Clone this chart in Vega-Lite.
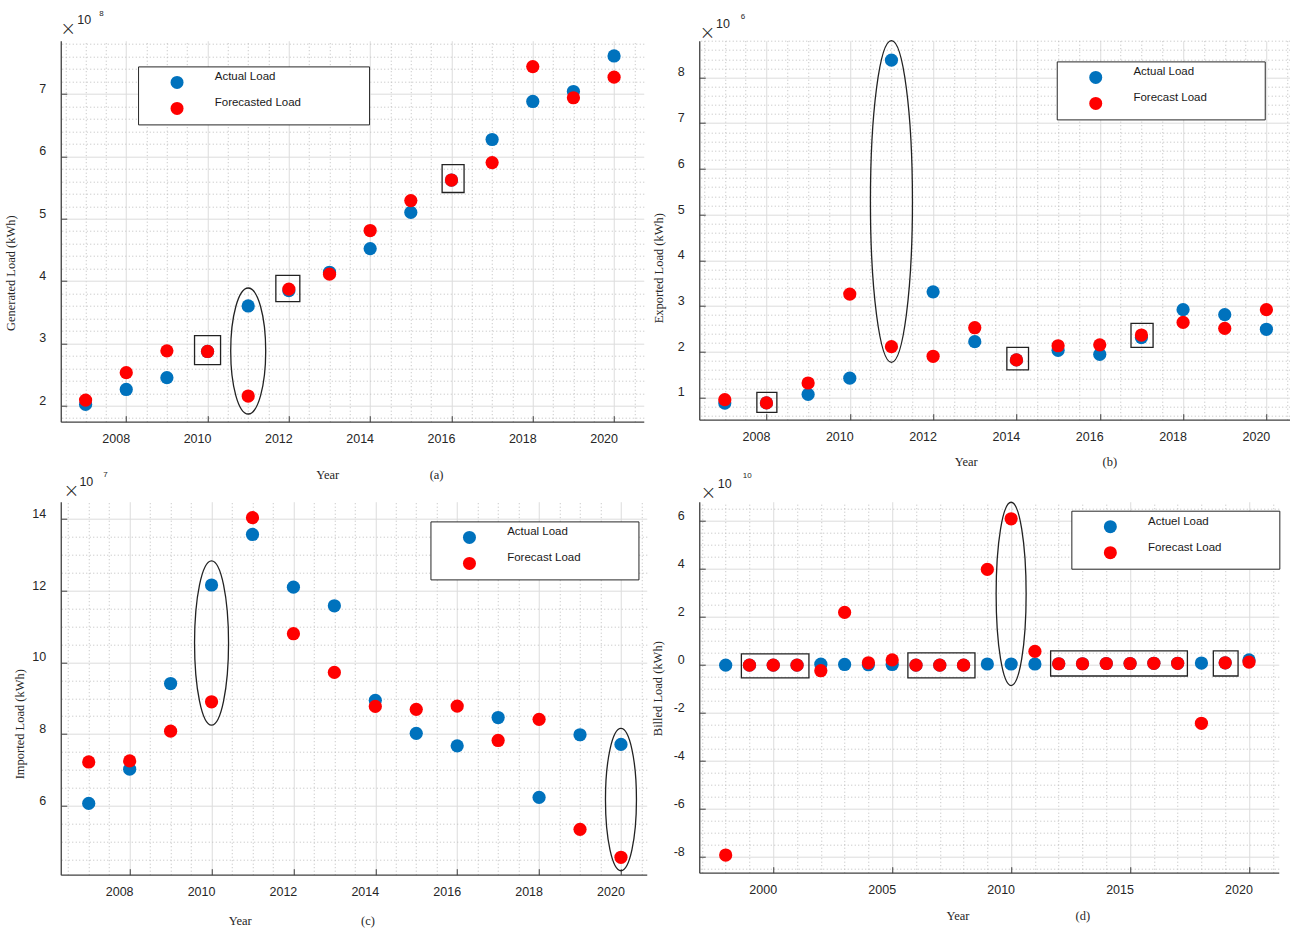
{
  "$schema": "https://vega.github.io/schema/vega-lite/v6.json",
  "autosize": {"type": "pad"},
  "padding": {"left": 4.75, "top": 8.7, "right": 0, "bottom": 0},
  "background": "white",
  "datasets": {
    "a": [
      {"year": 2007, "series": "Actual Load", "value": 2.02},
      {"year": 2008, "series": "Actual Load", "value": 2.26},
      {"year": 2009, "series": "Actual Load", "value": 2.45},
      {"year": 2010, "series": "Actual Load", "value": 2.87},
      {"year": 2011, "series": "Actual Load", "value": 3.6},
      {"year": 2012, "series": "Actual Load", "value": 3.845},
      {"year": 2013, "series": "Actual Load", "value": 4.14},
      {"year": 2014, "series": "Actual Load", "value": 4.52},
      {"year": 2015, "series": "Actual Load", "value": 5.1},
      {"year": 2016, "series": "Actual Load", "value": 5.62},
      {"year": 2017, "series": "Actual Load", "value": 6.27},
      {"year": 2018, "series": "Actual Load", "value": 6.88},
      {"year": 2019, "series": "Actual Load", "value": 7.04},
      {"year": 2020, "series": "Actual Load", "value": 7.61},
      {"year": 2007, "series": "Forecasted Load", "value": 2.09},
      {"year": 2008, "series": "Forecasted Load", "value": 2.53},
      {"year": 2009, "series": "Forecasted Load", "value": 2.88},
      {"year": 2010, "series": "Forecasted Load", "value": 2.87},
      {"year": 2011, "series": "Forecasted Load", "value": 2.155},
      {"year": 2012, "series": "Forecasted Load", "value": 3.87},
      {"year": 2013, "series": "Forecasted Load", "value": 4.11},
      {"year": 2014, "series": "Forecasted Load", "value": 4.81},
      {"year": 2015, "series": "Forecasted Load", "value": 5.29},
      {"year": 2016, "series": "Forecasted Load", "value": 5.62},
      {"year": 2017, "series": "Forecasted Load", "value": 5.9},
      {"year": 2018, "series": "Forecasted Load", "value": 7.44},
      {"year": 2019, "series": "Forecasted Load", "value": 6.94},
      {"year": 2020, "series": "Forecasted Load", "value": 7.27}
    ],
    "aBox": [
      {"x1": 2009.68, "x2": 2010.32, "y1": 3.123, "y2": 2.658},
      {"x1": 2011.68, "x2": 2012.27, "y1": 4.09, "y2": 3.67},
      {"x1": 2015.77, "x2": 2016.31, "y1": 5.866, "y2": 5.42}
    ],
    "aEll": [{"year": 2011, "value": 2.877}],
    "b": [
      {"year": 2007, "series": "Actual Load", "value": 0.877},
      {"year": 2008, "series": "Actual Load", "value": 0.88},
      {"year": 2009, "series": "Actual Load", "value": 1.066},
      {"year": 2010, "series": "Actual Load", "value": 1.42},
      {"year": 2011, "series": "Actual Load", "value": 8.38},
      {"year": 2012, "series": "Actual Load", "value": 3.31},
      {"year": 2013, "series": "Actual Load", "value": 2.22},
      {"year": 2014, "series": "Actual Load", "value": 1.82},
      {"year": 2015, "series": "Actual Load", "value": 2.03},
      {"year": 2016, "series": "Actual Load", "value": 1.94},
      {"year": 2017, "series": "Actual Load", "value": 2.31},
      {"year": 2018, "series": "Actual Load", "value": 2.92},
      {"year": 2019, "series": "Actual Load", "value": 2.81},
      {"year": 2020, "series": "Actual Load", "value": 2.49},
      {"year": 2007, "series": "Forecast Load", "value": 0.95},
      {"year": 2008, "series": "Forecast Load", "value": 0.88},
      {"year": 2009, "series": "Forecast Load", "value": 1.315},
      {"year": 2010, "series": "Forecast Load", "value": 3.26},
      {"year": 2011, "series": "Forecast Load", "value": 2.11},
      {"year": 2012, "series": "Forecast Load", "value": 1.9},
      {"year": 2013, "series": "Forecast Load", "value": 2.525},
      {"year": 2014, "series": "Forecast Load", "value": 1.82},
      {"year": 2015, "series": "Forecast Load", "value": 2.13},
      {"year": 2016, "series": "Forecast Load", "value": 2.15},
      {"year": 2017, "series": "Forecast Load", "value": 2.365},
      {"year": 2018, "series": "Forecast Load", "value": 2.64},
      {"year": 2019, "series": "Forecast Load", "value": 2.51},
      {"year": 2020, "series": "Forecast Load", "value": 2.92}
    ],
    "bBox": [
      {"x1": 2007.77, "x2": 2008.25, "y1": 1.11, "y2": 0.67},
      {"x1": 2013.77, "x2": 2014.29, "y1": 2.094, "y2": 1.6},
      {"x1": 2016.75, "x2": 2017.28, "y1": 2.62, "y2": 2.094}
    ],
    "bEll": [{"year": 2011, "value": 5.287}],
    "c": [
      {"year": 2007, "series": "Actual Load", "value": 6.064},
      {"year": 2008, "series": "Actual Load", "value": 7.02},
      {"year": 2009, "series": "Actual Load", "value": 9.41},
      {"year": 2010, "series": "Actual Load", "value": 12.16},
      {"year": 2011, "series": "Actual Load", "value": 13.57},
      {"year": 2012, "series": "Actual Load", "value": 12.1},
      {"year": 2013, "series": "Actual Load", "value": 11.58},
      {"year": 2014, "series": "Actual Load", "value": 8.94},
      {"year": 2015, "series": "Actual Load", "value": 8.02},
      {"year": 2016, "series": "Actual Load", "value": 7.67},
      {"year": 2017, "series": "Actual Load", "value": 8.46},
      {"year": 2018, "series": "Actual Load", "value": 6.23},
      {"year": 2019, "series": "Actual Load", "value": 7.98},
      {"year": 2020, "series": "Actual Load", "value": 7.71},
      {"year": 2007, "series": "Forecast Load", "value": 7.22},
      {"year": 2008, "series": "Forecast Load", "value": 7.25},
      {"year": 2009, "series": "Forecast Load", "value": 8.08},
      {"year": 2010, "series": "Forecast Load", "value": 8.9},
      {"year": 2011, "series": "Forecast Load", "value": 14.04},
      {"year": 2012, "series": "Forecast Load", "value": 10.8},
      {"year": 2013, "series": "Forecast Load", "value": 9.72},
      {"year": 2014, "series": "Forecast Load", "value": 8.77},
      {"year": 2015, "series": "Forecast Load", "value": 8.69},
      {"year": 2016, "series": "Forecast Load", "value": 8.78},
      {"year": 2017, "series": "Forecast Load", "value": 7.82},
      {"year": 2018, "series": "Forecast Load", "value": 8.41},
      {"year": 2019, "series": "Forecast Load", "value": 5.34},
      {"year": 2020, "series": "Forecast Load", "value": 4.56}
    ],
    "cEll": [{"year": 2010, "value": 10.54}, {"year": 2020, "value": 6.17}],
    "d": [
      {"year": 1998, "series": "Actuel Load", "value": 0.0},
      {"year": 1999, "series": "Actuel Load", "value": 0.0},
      {"year": 2000, "series": "Actuel Load", "value": 0.0},
      {"year": 2001, "series": "Actuel Load", "value": 0.0},
      {"year": 2002, "series": "Actuel Load", "value": 0.04},
      {"year": 2003, "series": "Actuel Load", "value": 0.03},
      {"year": 2004, "series": "Actuel Load", "value": 0.02},
      {"year": 2005, "series": "Actuel Load", "value": 0.03},
      {"year": 2006, "series": "Actuel Load", "value": 0.0},
      {"year": 2007, "series": "Actuel Load", "value": 0.0},
      {"year": 2008, "series": "Actuel Load", "value": 0.0},
      {"year": 2009, "series": "Actuel Load", "value": 0.05},
      {"year": 2010, "series": "Actuel Load", "value": 0.05},
      {"year": 2011, "series": "Actuel Load", "value": 0.05},
      {"year": 2012, "series": "Actuel Load", "value": 0.06},
      {"year": 2013, "series": "Actuel Load", "value": 0.06},
      {"year": 2014, "series": "Actuel Load", "value": 0.07},
      {"year": 2015, "series": "Actuel Load", "value": 0.07},
      {"year": 2016, "series": "Actuel Load", "value": 0.08},
      {"year": 2017, "series": "Actuel Load", "value": 0.08},
      {"year": 2018, "series": "Actuel Load", "value": 0.09},
      {"year": 2019, "series": "Actuel Load", "value": 0.1},
      {"year": 2020, "series": "Actuel Load", "value": 0.22},
      {"year": 1998, "series": "Forecast Load", "value": -7.91},
      {"year": 1999, "series": "Forecast Load", "value": 0.0},
      {"year": 2000, "series": "Forecast Load", "value": 0.0},
      {"year": 2001, "series": "Forecast Load", "value": 0.0},
      {"year": 2002, "series": "Forecast Load", "value": -0.23},
      {"year": 2003, "series": "Forecast Load", "value": 2.2},
      {"year": 2004, "series": "Forecast Load", "value": 0.1},
      {"year": 2005, "series": "Forecast Load", "value": 0.22},
      {"year": 2006, "series": "Forecast Load", "value": 0.0},
      {"year": 2007, "series": "Forecast Load", "value": 0.0},
      {"year": 2008, "series": "Forecast Load", "value": 0.0},
      {"year": 2009, "series": "Forecast Load", "value": 3.99},
      {"year": 2010, "series": "Forecast Load", "value": 6.1},
      {"year": 2011, "series": "Forecast Load", "value": 0.575},
      {"year": 2012, "series": "Forecast Load", "value": 0.06},
      {"year": 2013, "series": "Forecast Load", "value": 0.06},
      {"year": 2014, "series": "Forecast Load", "value": 0.07},
      {"year": 2015, "series": "Forecast Load", "value": 0.07},
      {"year": 2016, "series": "Forecast Load", "value": 0.08},
      {"year": 2017, "series": "Forecast Load", "value": 0.08},
      {"year": 2018, "series": "Forecast Load", "value": -2.42},
      {"year": 2019, "series": "Forecast Load", "value": 0.1},
      {"year": 2020, "series": "Forecast Load", "value": 0.13}
    ],
    "dBox": [
      {"x1": 1998.66, "x2": 2001.5, "y1": 0.47, "y2": -0.53},
      {"x1": 2005.66, "x2": 2008.48, "y1": 0.51, "y2": -0.53},
      {"x1": 2011.66, "x2": 2017.41, "y1": 0.6, "y2": -0.45},
      {"x1": 2018.5, "x2": 2019.54, "y1": 0.6, "y2": -0.45}
    ],
    "dEll": [{"year": 2010, "value": 2.97}]
  },
  "columns": 2,
  "spacing": {"row": 80, "column": 52.5},
  "bounds": "flush",
  "align": "each",
  "concat": [
    {
      "width": 583,
      "height": 381,
      "title": {"text": "8", "orient": "top", "anchor": "start", "frame": "group", "align": "center", "baseline": "middle", "dx": 40.7, "offset": -7.7, "fontSize": 8, "font": "Liberation Sans", "fontWeight": "normal", "color": "#262626"},
      "layer": [
        {
          "data": {"name": "a"},
          "mark": {"type": "circle", "size": 175, "opacity": 1},
          "encoding": {
            "x": {"field": "year", "type": "quantitative", "scale": {"domain": [2006.389, 2020.73], "nice": false, "zero": false},
              "axis": {"orient": "bottom", "grid": true, "values": [2008, 2010, 2012, 2014, 2016, 2018, 2020], "labelExpr": "'' + datum.value",
                "title": "Year\u00a0\u00a0\u00a0\u00a0\u00a0\u00a0\u00a0\u00a0\u00a0\u00a0\u00a0\u00a0\u00a0\u00a0\u00a0\u00a0\u00a0\u00a0\u00a0\u00a0\u00a0\u00a0\u00a0\u00a0\u00a0\u00a0\u00a0\u00a0\u00a0(a)", "titleX": 254.9, "titleY": 53}},
            "y": {"field": "value", "type": "quantitative", "scale": {"domain": [1.7433, 7.855], "nice": false, "zero": false},
              "axis": {"orient": "left", "grid": true, "values": [2, 3, 4, 5, 6, 7], "labelExpr": "'' + datum.value", "title": "Generated Load (kWh)", "titleX": -50, "titleY": 232}},
            "color": {"field": "series", "type": "nominal", "scale": {"domain": ["Actual Load", "Forecasted Load"], "range": ["#0072BD", "#FF0000"]},
              "legend": {"orient": "none", "legendX": 77.3, "legendY": 25.7, "title": null, "labelExpr": "datum.label + '\u00a0\u00a0\u00a0\u00a0\u00a0\u00a0\u00a0\u00a0\u00a0\u00a0\u00a0\u00a0\u00a0\u00a0\u00a0\u00a0\u00a0\u00a0\u200b'"}}
          }
        },
        {
          "data": {"name": "aBox"},
          "mark": {"type": "rect", "filled": false, "stroke": "#222222", "strokeWidth": 1.3},
          "encoding": {
            "x": {"field": "x1", "type": "quantitative", "scale": {"domain": [2006.389, 2020.73], "nice": false, "zero": false},
              "axis": {"orient": "top", "grid": true, "gridDash": [1, 2.5], "gridColor": "#bdbdbd", "values": [2006.5, 2007, 2007.5, 2008.5, 2009, 2009.5, 2010.5, 2011, 2011.5, 2012.5, 2013, 2013.5, 2014.5, 2015, 2015.5, 2016.5, 2017, 2017.5, 2018.5, 2019, 2019.5, 2020.5], "title": "×", "titleX": 7, "titleY": -12.3}},
            "x2": {"field": "x2"},
            "y": {"field": "y1", "type": "quantitative", "scale": {"domain": [1.7433, 7.855], "nice": false, "zero": false},
              "axis": {"orient": "right", "grid": true, "gridDash": [1, 2.5], "gridColor": "#bdbdbd", "values": [1.8, 2.2, 2.4, 2.6, 2.8, 3.2, 3.4, 3.6, 3.8, 4.2, 4.4, 4.6, 4.8, 5.2, 5.4, 5.6, 5.8, 6.2, 6.4, 6.6, 6.8, 7.2, 7.4, 7.6, 7.8], "title": "10", "titleX": -560, "titleY": -20.8}},
            "y2": {"field": "y2"}
          }
        },
        {
          "data": {"name": "aEll"},
          "mark": {"type": "point", "shape": "M0,-1C0.1534,-1 0.2778,-0.5523 0.2778,0C0.2778,0.5523 0.1534,1 0,1C-0.1534,1 -0.2778,0.5523 -0.2778,0C-0.2778,-0.5523 -0.1534,-1 0,-1Z", "size": 15876, "filled": false, "stroke": "#222222", "strokeWidth": 1.3, "opacity": 1},
          "encoding": {
            "x": {"field": "year", "type": "quantitative", "scale": {"domain": [2006.389, 2020.73], "nice": false, "zero": false}, "axis": null},
            "y": {"field": "value", "type": "quantitative", "scale": {"domain": [1.7433, 7.855], "nice": false, "zero": false}, "axis": null}
          }
        }
      ],
      "resolve": {"axis": {"x": "independent", "y": "independent"}}
    },
    {
      "width": 590.5,
      "height": 379,
      "title": {"text": "6", "orient": "top", "anchor": "start", "frame": "group", "align": "center", "baseline": "middle", "dx": 43.8, "offset": -7, "fontSize": 8, "font": "Liberation Sans", "fontWeight": "normal", "color": "#262626"},
      "layer": [
        {
          "data": {"name": "b"},
          "mark": {"type": "circle", "size": 175, "opacity": 1},
          "encoding": {
            "x": {"field": "year", "type": "quantitative", "scale": {"domain": [2006.387, 2020.56], "nice": false, "zero": false},
              "axis": {"orient": "bottom", "grid": true, "values": [2008, 2010, 2012, 2014, 2016, 2018, 2020], "labelExpr": "'' + datum.value",
                "title": "Year\u00a0\u00a0\u00a0\u00a0\u00a0\u00a0\u00a0\u00a0\u00a0\u00a0\u00a0\u00a0\u00a0\u00a0\u00a0\u00a0\u00a0\u00a0\u00a0\u00a0\u00a0\u00a0\u00a0\u00a0\u00a0\u00a0\u00a0\u00a0\u00a0\u00a0\u00a0\u00a0\u00a0\u00a0\u00a0\u00a0\u00a0\u00a0\u00a0\u00a0(b)", "titleX": 255, "titleY": 41.7}},
            "y": {"field": "value", "type": "quantitative", "scale": {"domain": [0.512, 8.805], "nice": false, "zero": false},
              "axis": {"orient": "left", "grid": true, "values": [1, 2, 3, 4, 5, 6, 7, 8], "labelExpr": "'' + datum.value", "title": "Exported Load (kWh)", "titleX": -41, "titleY": 227}},
            "color": {"field": "series", "type": "nominal", "scale": {"domain": ["Actual Load", "Forecast Load"], "range": ["#0072BD", "#FF0000"]},
              "legend": {"orient": "none", "legendX": 357.5, "legendY": 20.7, "title": null, "labelExpr": "datum.label + '\u00a0\u00a0\u00a0\u00a0\u00a0\u00a0\u00a0\u00a0\u00a0\u00a0\u00a0\u00a0\u00a0\u00a0\u00a0\u200b'"}}
          }
        },
        {
          "data": {"name": "bBox"},
          "mark": {"type": "rect", "filled": false, "stroke": "#222222", "strokeWidth": 1.3},
          "encoding": {
            "x": {"field": "x1", "type": "quantitative", "scale": {"domain": [2006.387, 2020.56], "nice": false, "zero": false},
              "axis": {"orient": "top", "grid": true, "gridDash": [1, 2.5], "gridColor": "#bdbdbd", "values": [2006.5, 2007, 2007.5, 2008.5, 2009, 2009.5, 2010.5, 2011, 2011.5, 2012.5, 2013, 2013.5, 2014.5, 2015, 2015.5, 2016.5, 2017, 2017.5, 2018.5, 2019, 2019.5, 2020.5], "title": "×", "titleX": 7.8, "titleY": -7.8}},
            "x2": {"field": "x2"},
            "y": {"field": "y1", "type": "quantitative", "scale": {"domain": [0.512, 8.805], "nice": false, "zero": false},
              "axis": {"orient": "right", "grid": true, "gridDash": [1, 2.5], "gridColor": "#bdbdbd", "values": [0.6, 0.8, 1.2, 1.4, 1.6, 1.8, 2.2, 2.4, 2.6, 2.8, 3.2, 3.4, 3.6, 3.8, 4.2, 4.4, 4.6, 4.8, 5.2, 5.4, 5.6, 5.8, 6.2, 6.4, 6.6, 6.8, 7.2, 7.4, 7.6, 7.8, 8.2, 8.4, 8.6, 8.8], "title": "10", "titleX": -567.2, "titleY": -16.7}},
            "y2": {"field": "y2"}
          }
        },
        {
          "data": {"name": "bEll"},
          "mark": {"type": "point", "shape": "M0,-1C0.0721,-1 0.1306,-0.5523 0.1306,0C0.1306,0.5523 0.0721,1 0,1C-0.0721,1 -0.1306,0.5523 -0.1306,0C-0.1306,-0.5523 -0.0721,-1 0,-1Z", "size": 103491, "filled": false, "stroke": "#222222", "strokeWidth": 1.3, "opacity": 1},
          "encoding": {
            "x": {"field": "year", "type": "quantitative", "scale": {"domain": [2006.387, 2020.56], "nice": false, "zero": false}, "axis": null},
            "y": {"field": "value", "type": "quantitative", "scale": {"domain": [0.512, 8.805], "nice": false, "zero": false}, "axis": null}
          }
        }
      ],
      "resolve": {"axis": {"x": "independent", "y": "independent"}}
    },
    {
      "width": 586,
      "height": 373,
      "title": {"text": "7", "orient": "top", "anchor": "start", "frame": "group", "align": "center", "baseline": "middle", "dx": 44.8, "offset": -7.1, "fontSize": 8, "font": "Liberation Sans", "fontWeight": "normal", "color": "#262626"},
      "layer": [
        {
          "data": {"name": "c"},
          "mark": {"type": "circle", "size": 175, "opacity": 1},
          "encoding": {
            "x": {"field": "year", "type": "quantitative", "scale": {"domain": [2006.317, 2020.63], "nice": false, "zero": false},
              "axis": {"orient": "bottom", "grid": true, "values": [2008, 2010, 2012, 2014, 2016, 2018, 2020], "labelExpr": "'' + datum.value",
                "title": "Year\u00a0\u00a0\u00a0\u00a0\u00a0\u00a0\u00a0\u00a0\u00a0\u00a0\u00a0\u00a0\u00a0\u00a0\u00a0\u00a0\u00a0\u00a0\u00a0\u00a0\u00a0\u00a0\u00a0\u00a0\u00a0\u00a0\u00a0\u00a0\u00a0\u00a0\u00a0\u00a0\u00a0\u00a0\u00a0(c)", "titleX": 167.5, "titleY": 45.7}},
            "y": {"field": "value", "type": "quantitative", "scale": {"domain": [4.074, 14.485], "nice": false, "zero": false},
              "axis": {"orient": "left", "grid": true, "values": [6, 8, 10, 12, 14], "labelExpr": "'' + datum.value", "title": "Imported Load (kWh)", "titleX": -41, "titleY": 222}},
            "color": {"field": "series", "type": "nominal", "scale": {"domain": ["Actual Load", "Forecast Load"], "range": ["#0072BD", "#FF0000"]},
              "legend": {"orient": "none", "legendX": 369.7, "legendY": 19.7, "title": null, "labelExpr": "datum.label + '\u00a0\u00a0\u00a0\u00a0\u00a0\u00a0\u00a0\u00a0\u00a0\u00a0\u00a0\u00a0\u00a0\u00a0\u00a0\u200b'"}}
          }
        },
        {
          "data": {"name": "cEll"},
          "transform": [{"filter": "datum.year == 2010"}],
          "mark": {"type": "point", "shape": "M0,-1C0.1143,-1 0.2069,-0.5523 0.2069,0C0.2069,0.5523 0.1143,1 0,1C-0.1143,1 -0.2069,0.5523 -0.2069,0C-0.2069,-0.5523 -0.1143,-1 0,-1Z", "size": 26995, "filled": false, "stroke": "#222222", "strokeWidth": 1.3, "opacity": 1},
          "encoding": {
            "x": {"field": "year", "type": "quantitative", "scale": {"domain": [2006.317, 2020.63], "nice": false, "zero": false},
              "axis": {"orient": "top", "grid": true, "gridDash": [1, 2.5], "gridColor": "#bdbdbd", "values": [2006.5, 2007, 2007.5, 2008.5, 2009, 2009.5, 2010.5, 2011, 2011.5, 2012.5, 2013, 2013.5, 2014.5, 2015, 2015.5, 2016.5, 2017, 2017.5, 2018.5, 2019, 2019.5, 2020.5], "title": "×", "titleX": 10.2, "titleY": -11.3}},
            "y": {"field": "value", "type": "quantitative", "scale": {"domain": [4.074, 14.485], "nice": false, "zero": false},
              "axis": {"orient": "right", "grid": true, "gridDash": [1, 2.5], "gridColor": "#bdbdbd", "values": [4.5, 5, 5.5, 6.5, 7, 7.5, 8.5, 9, 9.5, 10.5, 11, 11.5, 12.5, 13, 13.5, 14.5], "title": "10", "titleX": -560.9, "titleY": -20.2}}
          }
        },
        {
          "data": {"name": "cEll"},
          "transform": [{"filter": "datum.year == 2020"}],
          "mark": {"type": "point", "shape": "M0,-1C0.1203,-1 0.2178,-0.5523 0.2178,0C0.2178,0.5523 0.1203,1 0,1C-0.1203,1 -0.2178,0.5523 -0.2178,0C-0.2178,-0.5523 -0.1203,-1 0,-1Z", "size": 20249, "filled": false, "stroke": "#222222", "strokeWidth": 1.3, "opacity": 1},
          "encoding": {
            "x": {"field": "year", "type": "quantitative", "scale": {"domain": [2006.317, 2020.63], "nice": false, "zero": false}, "axis": null},
            "y": {"field": "value", "type": "quantitative", "scale": {"domain": [4.074, 14.485], "nice": false, "zero": false}, "axis": null}
          }
        }
      ],
      "resolve": {"axis": {"x": "independent", "y": "independent"}}
    },
    {
      "width": 579.5,
      "height": 371,
      "title": {"text": "10", "orient": "top", "anchor": "start", "frame": "group", "align": "center", "baseline": "middle", "dx": 48, "offset": -6.7, "fontSize": 8, "font": "Liberation Sans", "fontWeight": "normal", "color": "#262626"},
      "layer": [
        {
          "data": {"name": "d"},
          "mark": {"type": "circle", "size": 175, "opacity": 1},
          "encoding": {
            "x": {"field": "year", "type": "quantitative", "scale": {"domain": [1996.889, 2021.25], "nice": false, "zero": false},
              "axis": {"orient": "bottom", "grid": true, "values": [2000, 2005, 2010, 2015, 2020], "labelExpr": "'' + datum.value",
                "title": "Year\u00a0\u00a0\u00a0\u00a0\u00a0\u00a0\u00a0\u00a0\u00a0\u00a0\u00a0\u00a0\u00a0\u00a0\u00a0\u00a0\u00a0\u00a0\u00a0\u00a0\u00a0\u00a0\u00a0\u00a0\u00a0\u00a0\u00a0\u00a0\u00a0\u00a0\u00a0\u00a0\u00a0\u00a0(d)", "titleX": 246.7, "titleY": 43.3}},
            "y": {"field": "value", "type": "quantitative", "scale": {"domain": [-8.646, 6.8125], "nice": false, "zero": false},
              "axis": {"orient": "left", "grid": true, "values": [-8, -6, -4, -2, 0, 2, 4, 6], "labelExpr": "'' + datum.value", "title": "Billed Load (kWh)", "titleX": -41.5, "titleY": 186.5}},
            "color": {"field": "series", "type": "nominal", "scale": {"domain": ["Actuel Load", "Forecast Load"], "range": ["#0072BD", "#FF0000"]},
              "legend": {"orient": "none", "legendX": 372.1, "legendY": 9, "title": null, "labelExpr": "datum.label + '\u00a0\u00a0\u00a0\u00a0\u00a0\u00a0\u00a0\u00a0\u00a0\u00a0\u00a0\u00a0\u00a0\u00a0\u00a0\u200b'"}}
          }
        },
        {
          "data": {"name": "dBox"},
          "mark": {"type": "rect", "filled": false, "stroke": "#222222", "strokeWidth": 1.3},
          "encoding": {
            "x": {"field": "x1", "type": "quantitative", "scale": {"domain": [1996.889, 2021.25], "nice": false, "zero": false},
              "axis": {"orient": "top", "grid": true, "gridDash": [1, 2.5], "gridColor": "#bdbdbd", "values": [1997, 1998, 1999, 2001, 2002, 2003, 2004, 2006, 2007, 2008, 2009, 2011, 2012, 2013, 2014, 2016, 2017, 2018, 2019, 2021], "title": "×", "titleX": 8.8, "titleY": -9.3}},
            "x2": {"field": "x2"},
            "y": {"field": "y1", "type": "quantitative", "scale": {"domain": [-8.646, 6.8125], "nice": false, "zero": false},
              "axis": {"orient": "right", "grid": true, "gridDash": [1, 2.5], "gridColor": "#bdbdbd", "values": [-8.5, -7.5, -7, -6.5, -5.5, -5, -4.5, -3.5, -3, -2.5, -1.5, -1, -0.5, 0.5, 1, 1.5, 2.5, 3, 3.5, 4.5, 5, 5.5, 6.5], "title": "10", "titleX": -554.5, "titleY": -18.5}},
            "y2": {"field": "y2"}
          }
        },
        {
          "data": {"name": "dEll"},
          "mark": {"type": "point", "shape": "M0,-1C0.0904,-1 0.1637,-0.5523 0.1637,0C0.1637,0.5523 0.0904,1 0,1C-0.0904,1 -0.1637,0.5523 -0.1637,0C-0.1637,-0.5523 -0.0904,-1 0,-1Z", "size": 33599, "filled": false, "stroke": "#222222", "strokeWidth": 1.3, "opacity": 1},
          "encoding": {
            "x": {"field": "year", "type": "quantitative", "scale": {"domain": [1996.889, 2021.25], "nice": false, "zero": false}, "axis": null},
            "y": {"field": "value", "type": "quantitative", "scale": {"domain": [-8.646, 6.8125], "nice": false, "zero": false}, "axis": null}
          }
        }
      ],
      "resolve": {"axis": {"x": "independent", "y": "independent"}}
    }
  ],
  "resolve": {"scale": {"color": "independent"}, "legend": {"color": "independent"}},
  "config": {
    "view": {"stroke": null},
    "axisBottom": {"grid": true, "gridColor": "#dcdcdc", "gridWidth": 1, "domain": true, "domainColor": "#404040", "domainWidth": 1.3, "ticks": true, "tickSize": -6, "tickColor": "#404040", "tickWidth": 1, "labelFont": "Liberation Sans", "labelFontSize": 12.5, "labelColor": "#262626", "labelPadding": 22.5, "labelBaseline": "middle", "labelOffset": -10.5, "labelFlush": false, "labelOverlap": false, "titleFont": "Liberation Serif", "titleFontSize": 12.5, "titleFontWeight": "normal", "titleColor": "#262626", "titleAlign": "left", "titleBaseline": "middle", "titleAngle": 0},
    "axisLeft": {"grid": true, "gridColor": "#dcdcdc", "gridWidth": 1, "domain": true, "domainColor": "#404040", "domainWidth": 1.3, "ticks": true, "tickSize": -6, "tickColor": "#404040", "tickWidth": 1, "labelFont": "Liberation Sans", "labelFontSize": 12.5, "labelColor": "#262626", "labelPadding": 21, "labelBaseline": "middle", "labelOffset": -5.5, "labelFlush": false, "labelOverlap": false, "titleFont": "Liberation Serif", "titleFontSize": 12.5, "titleFontWeight": "normal", "titleColor": "#262626", "titleAlign": "center", "titleBaseline": "middle", "titleAngle": 270},
    "axisTop": {"grid": true, "gridColor": "#bdbdbd", "gridDash": [1, 2.5], "gridWidth": 1, "domain": false, "ticks": false, "labels": false, "titleFont": "DejaVu Sans", "titleFontWeight": 200, "titleFontSize": 19, "titleColor": "#262626", "titleAngle": 0, "titleAlign": "center", "titleBaseline": "middle"},
    "axisRight": {"grid": true, "gridColor": "#bdbdbd", "gridDash": [1, 2.5], "gridWidth": 1, "domain": false, "ticks": false, "labels": false, "titleFont": "Liberation Sans", "titleFontSize": 12.5, "titleFontWeight": "normal", "titleColor": "#262626", "titleAngle": 0, "titleAlign": "center", "titleBaseline": "middle"},
    "legend": {"padding": 9.5, "symbolOffset": 23, "labelOffset": 31.2, "rowPadding": 8, "symbolSize": 169, "symbolType": "circle", "symbolStrokeWidth": 0, "labelFont": "Liberation Sans", "labelFontSize": 11.5, "labelColor": "#1a1a1a", "labelBaseline": "bottom", "labelLimit": 300, "strokeColor": "#262626", "fillColor": "white"}
  }
}
